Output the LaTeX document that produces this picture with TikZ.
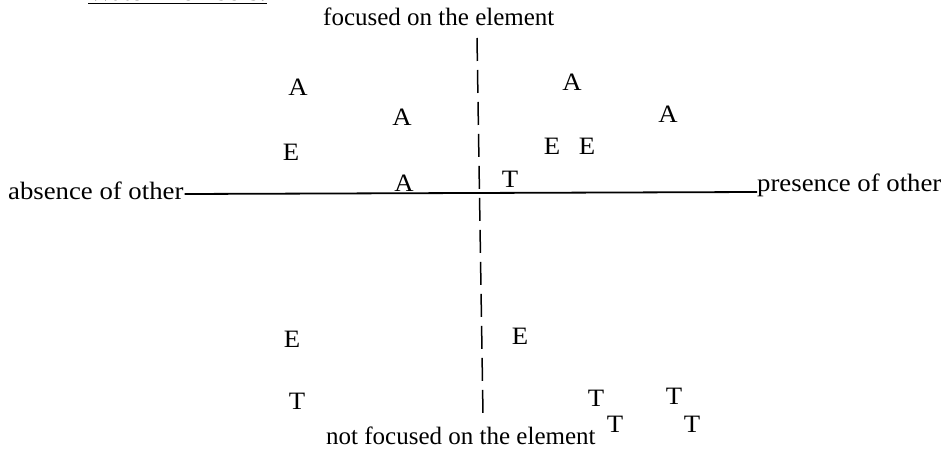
\documentclass[tikz,border=0pt]{standalone}
\usepackage{fontspec}
\setmainfont{Liberation Serif}
\newfontfamily\widefont[FakeStretch=1.07]{Liberation Serif}
\begin{document}
\begin{tikzpicture}[x=1pt,y=-1pt,
  lbl/.style={font=\fontsize{25}{28}\selectfont, inner sep=0pt},
  side/.style={font=\widefont\fontsize{25}{28}\selectfont, inner sep=0pt},
  pt/.style={font=\widefont\fontsize{25}{28}\selectfont, inner sep=0pt},
  axis/.style={line width=1.8pt},
  dashaxis/.style={line width=1.5pt, dash pattern=on 23pt off 9pt}]
\useasboundingbox (0,0) rectangle (952,452);
% title (cut off at top)
\node[side, anchor=base west] (title) at (88,1) {\underline{Water Members:}};
% axis labels
\node[lbl, anchor=base west] (top) at (323,26) {focused on the element};
\node[lbl, anchor=base west] (bot) at (326,444) {not focused on the element};
\node[side, anchor=base west] (left) at (8,199) {absence of other};
\node[side, anchor=base west] (right) at (757,191) {presence of other};
\coordinate (vt) at (477,38);
\coordinate (vb) at (483,415);
\draw[axis] (left.base east) ++(1,-5) coordinate (hl) -- ([yshift=-1]right.base west) coordinate (hr);
\draw[dashaxis] (vt) -- (vb);
% points
\node[pt] (a1) at (298,87) {A};
\node[pt] (a2) at (402,117) {A};
\node[pt] (e1) at (291,152) {E};
\node[pt] (a3) at (404,183) {A};
\node[pt] (t1) at (510,179) {T};
\node[pt] (a4) at (572,82) {A};
\node[pt] (a5) at (668,114) {A};
\node[pt] (e2) at (552,146) {E};
\node[pt] (e3) at (587,146) {E};
\node[pt] (e4) at (292,339) {E};
\node[pt] (e5) at (520,336) {E};
\node[pt] (t2) at (297,401) {T};
\node[pt] (t3) at (596,398) {T};
\node[pt] (t4) at (674,396) {T};
\node[pt] (t5) at (615,424) {T};
\node[pt] (t6) at (692,424) {T};
\end{tikzpicture}
\end{document}
